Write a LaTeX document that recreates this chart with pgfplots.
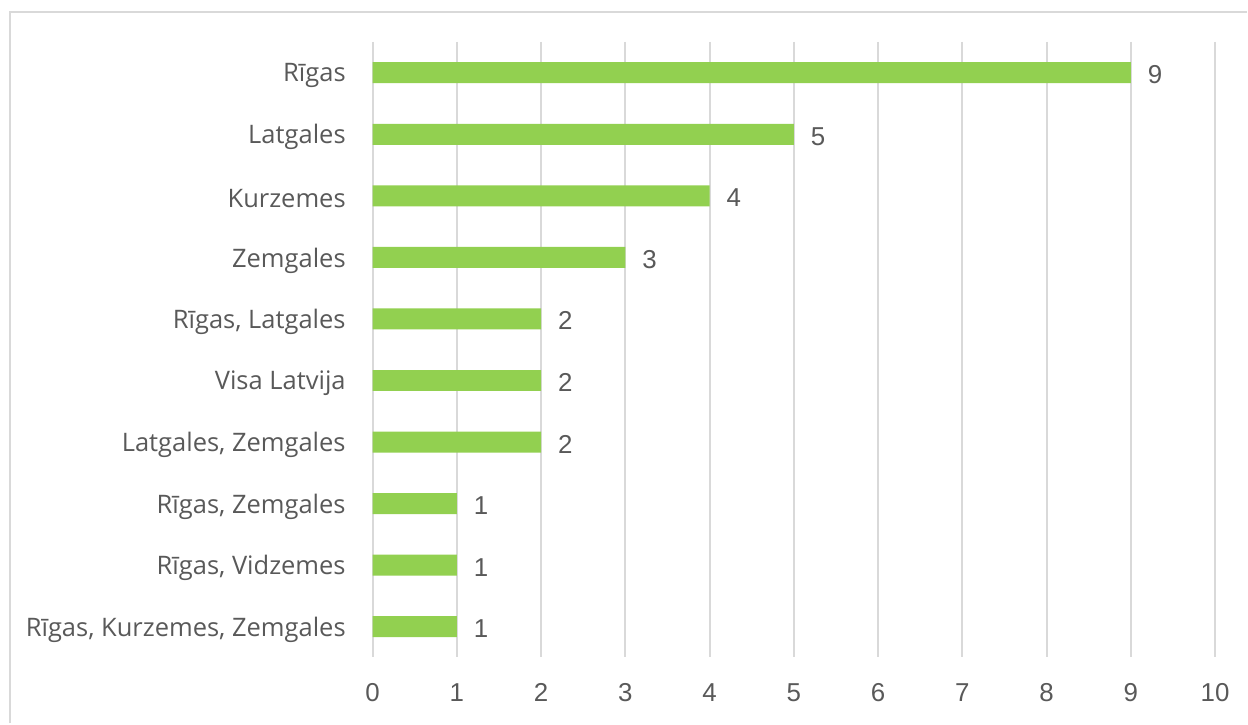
\documentclass[border=0pt]{standalone}
\usepackage{pgfplots}
\pgfplotsset{compat=1.18}
\usepackage{fontspec}
\setmainfont{Open Sans}
\newfontfamily\numfont{Liberation Sans}
\definecolor{bargreen}{HTML}{92D050}
\definecolor{gridgray}{HTML}{D9D9D9}
\definecolor{txtgray}{HTML}{595959}
\begin{document}
\begin{tikzpicture}
\begin{axis}[
    name=ax,
    at={(0,0)}, anchor=south west,
    scale only axis,
    width=421.5bp, height=308bp,
    xbar, bar width=10.5bp,
    xmin=0, xmax=10,
    ymin=-0.5, ymax=9.5,
    y dir=reverse,
    xtick={0,...,10},
    ytick={0,...,9},
    yticklabels={R{\=\i}gas, Latgales, Kurzemes, Zemgales, {R{\=\i}gas, Latgales}, Visa Latvija, {Latgales, Zemgales}, {R{\=\i}gas, Zemgales}, {R{\=\i}gas, Vidzemes}, {R{\=\i}gas, Kurzemes, Zemgales}},
    major tick length=0pt,
    axis line style={draw=none},
    xmajorgrids, major grid style={gridgray, line width=1bp},
    /pgf/number format/assume math mode=true,
    xticklabel style={font=\fontsize{13}{15}\selectfont\numfont, text=txtgray, yshift=-9.5bp},
    yticklabel style={font=\fontsize{12.8}{15}\selectfont, text=txtgray, xshift=-10bp, yshift=-1.5bp},
    nodes near coords,
    every node near coord/.append style={font=\fontsize{13}{15}\selectfont\numfont, text=txtgray, xshift=5bp, yshift=-1bp},
    clip=false,
]
\addplot[fill=bargreen, draw=none] coordinates {
    (9,0) (5,1) (4,2) (3,3) (2,4) (2,5) (2,6) (1,7) (1,8) (1,9)
};
\end{axis}
\draw[gridgray, line width=1bp] (-181.5bp,-33bp) -- (-181.5bp,323bp) -- (437.5bp,323bp);
\useasboundingbox (-186.5bp,-33bp) rectangle (437.5bp,329bp);
\end{tikzpicture}
\end{document}
